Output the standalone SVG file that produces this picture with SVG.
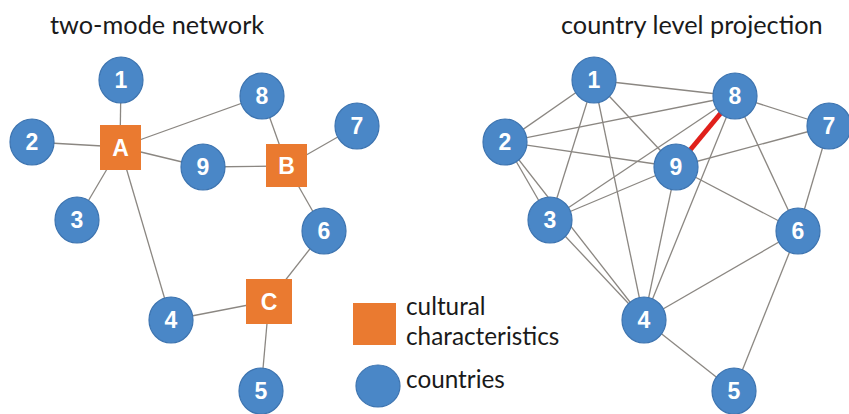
<svg xmlns="http://www.w3.org/2000/svg" width="849" height="414" viewBox="0 0 849 414">
<style>
.title{font-family:Lato,"Liberation Sans",sans-serif;font-size:25.3px;fill:#1a1a1a}
.leg{font-family:Lato,"Liberation Sans",sans-serif;font-size:24.3px;fill:#1a1a1a}
.c{fill:#4a87c7;stroke:#3d74b0;stroke-width:1.2}
.s{fill:#ea7a30}
.lbl{font-family:"Liberation Sans",Arial,sans-serif;font-weight:bold;font-size:23px;fill:#fff;text-anchor:middle}
.e line{stroke:#8b8782;stroke-width:1.3}
</style>
<rect width="849" height="414" fill="#fff"/>
<text class="title" x="50" y="34">two-mode network</text>
<text class="title" x="561" y="34">country level projection</text>

<g id="edges-left" class="e">
<line x1="121" y1="80" x2="120" y2="147"/>
<line x1="32" y1="142" x2="120" y2="147"/>
<line x1="77" y1="220" x2="120" y2="147"/>
<line x1="171" y1="320" x2="120" y2="147"/>
<line x1="262" y1="96" x2="120" y2="147"/>
<line x1="203" y1="167" x2="120" y2="147"/>
<line x1="203" y1="167" x2="287" y2="166"/>
<line x1="262" y1="96" x2="287" y2="166"/>
<line x1="357" y1="126" x2="287" y2="166"/>
<line x1="324" y1="231" x2="287" y2="166"/>
<line x1="324" y1="231" x2="269" y2="301"/>
<line x1="171" y1="320" x2="269" y2="301"/>
<line x1="261" y1="391" x2="269" y2="301"/>
</g>

<g id="edges-right" class="e">
<line x1="594" y1="80" x2="505" y2="142"/>
<line x1="594" y1="80" x2="550" y2="220"/>
<line x1="594" y1="80" x2="644" y2="320"/>
<line x1="594" y1="80" x2="735" y2="96"/>
<line x1="594" y1="80" x2="676" y2="167"/>
<line x1="505" y1="142" x2="550" y2="220"/>
<line x1="505" y1="142" x2="644" y2="320"/>
<line x1="505" y1="142" x2="735" y2="96"/>
<line x1="505" y1="142" x2="676" y2="167"/>
<line x1="550" y1="220" x2="644" y2="320"/>
<line x1="550" y1="220" x2="735" y2="96"/>
<line x1="550" y1="220" x2="676" y2="167"/>
<line x1="644" y1="320" x2="735" y2="96"/>
<line x1="644" y1="320" x2="676" y2="167"/>
<line x1="735" y1="96" x2="829" y2="126"/>
<line x1="735" y1="96" x2="798" y2="231"/>
<line x1="676" y1="167" x2="829" y2="126"/>
<line x1="676" y1="167" x2="798" y2="231"/>
<line x1="829" y1="126" x2="798" y2="231"/>
<line x1="644" y1="320" x2="798" y2="231"/>
<line x1="644" y1="320" x2="734" y2="391"/>
<line x1="798" y1="231" x2="734" y2="391"/>
<line x1="735" y1="96" x2="676" y2="167" style="stroke:#e0201b;stroke-width:5"/>
</g>

<g id="L1"><ellipse class="c" cx="121" cy="80" rx="22" ry="23"/><text class="lbl" x="121" y="88">1</text></g>
<g id="L2"><ellipse class="c" cx="32" cy="142" rx="22" ry="23"/><text class="lbl" x="32" y="150">2</text></g>
<g id="L3"><ellipse class="c" cx="77" cy="220" rx="22" ry="23"/><text class="lbl" x="77" y="228">3</text></g>
<g id="L4"><ellipse class="c" cx="171" cy="320" rx="22" ry="23"/><text class="lbl" x="171" y="328">4</text></g>
<g id="L5"><ellipse class="c" cx="261" cy="391" rx="22" ry="23"/><text class="lbl" x="261" y="399">5</text></g>
<g id="L6"><ellipse class="c" cx="324" cy="231" rx="22" ry="23"/><text class="lbl" x="324" y="239">6</text></g>
<g id="L7"><ellipse class="c" cx="357" cy="126" rx="22" ry="23"/><text class="lbl" x="357" y="134">7</text></g>
<g id="L8"><ellipse class="c" cx="262" cy="96" rx="22" ry="23"/><text class="lbl" x="262" y="104">8</text></g>
<g id="L9"><ellipse class="c" cx="203" cy="167" rx="22" ry="23"/><text class="lbl" x="203" y="175">9</text></g>
<g id="A"><rect class="s" x="100" y="125" width="41" height="45"/><text class="lbl" x="120.5" y="155.5">A</text></g>
<g id="B"><rect class="s" x="266" y="144" width="41" height="43"/><text class="lbl" x="286.5" y="173.5">B</text></g>
<g id="C"><rect class="s" x="246" y="279" width="46" height="45"/><text class="lbl" x="269" y="309.5">C</text></g>

<g id="R1"><ellipse class="c" cx="594" cy="80" rx="22" ry="23"/><text class="lbl" x="594" y="88">1</text></g>
<g id="R2"><ellipse class="c" cx="505" cy="142" rx="22" ry="23"/><text class="lbl" x="505" y="150">2</text></g>
<g id="R3"><ellipse class="c" cx="550" cy="220" rx="22" ry="23"/><text class="lbl" x="550" y="228">3</text></g>
<g id="R4"><ellipse class="c" cx="644" cy="320" rx="22" ry="23"/><text class="lbl" x="644" y="328">4</text></g>
<g id="R5"><ellipse class="c" cx="734" cy="391" rx="22" ry="23"/><text class="lbl" x="734" y="399">5</text></g>
<g id="R6"><ellipse class="c" cx="798" cy="231" rx="22" ry="23"/><text class="lbl" x="798" y="239">6</text></g>
<g id="R7"><ellipse class="c" cx="829" cy="126" rx="22" ry="23"/><text class="lbl" x="829" y="134">7</text></g>
<g id="R8"><ellipse class="c" cx="735" cy="96" rx="22" ry="23"/><text class="lbl" x="735" y="104">8</text></g>
<g id="R9"><ellipse class="c" cx="676" cy="167" rx="22" ry="23"/><text class="lbl" x="676" y="175">9</text></g>

<g id="legend">
<rect class="s" x="353" y="303" width="43" height="42"/>
<ellipse class="c" cx="378" cy="386" rx="22" ry="21"/>
<text class="leg" x="406" y="315">cultural</text>
<text class="leg" x="406" y="345">characteristics</text>
<text class="leg" x="406" y="388">countries</text>
</g>
</svg>
